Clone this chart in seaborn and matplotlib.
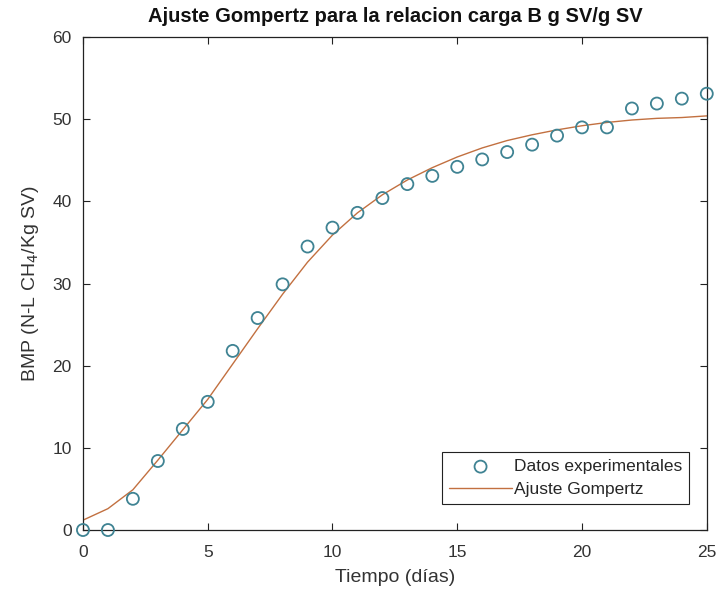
import matplotlib
matplotlib.use("Agg")
import matplotlib.pyplot as plt
import seaborn as sns
import pandas as pd

# Data
dias = list(range(0, 26))
bmp_experimental = [0.0, 0.0, 3.8, 8.4, 12.3, 15.6, 21.8, 25.8, 29.9, 34.5,
                    36.8, 38.6, 40.4, 42.1, 43.1, 44.2, 45.1, 46.0, 46.9, 48.0,
                    49.0, 49.0, 51.3, 51.9, 52.5, 53.1]
bmp_gompertz = [1.2, 2.6, 4.9, 8.5, 12.2, 15.9, 20.2, 24.5, 28.7, 32.6,
                35.9, 38.6, 40.8, 42.6, 44.1, 45.4, 46.5, 47.4, 48.1, 48.7,
                49.2, 49.6, 49.9, 50.1, 50.2, 50.4]

x_ticks = [0, 5, 10, 15, 20, 25]
y_ticks = [0, 10, 20, 30, 40, 50, 60]

df_exp = pd.DataFrame({"Tiempo": dias, "BMP": bmp_experimental})
df_fit = pd.DataFrame({"Tiempo": dias, "BMP": bmp_gompertz})

sns.set_theme(style="white")
plt.rcParams["font.family"] = ["Liberation Sans", "DejaVu Sans"]

fig = plt.figure(figsize=(7.19, 5.94), dpi=100)
ax = fig.add_axes([0.1154, 0.1077, 0.8676, 0.830])

sns.scatterplot(data=df_exp, x="Tiempo", y="BMP", ax=ax, marker="o", s=75,
                facecolor="none", edgecolor="#3f8393", linewidth=1.3,
                label="Datos experimentales", zorder=3, clip_on=False)
sns.lineplot(data=df_fit, x="Tiempo", y="BMP", ax=ax, color="#c27040",
             linewidth=1.0, label="Ajuste Gompertz", zorder=2)

ax.set_xlim(0, 25)
ax.set_ylim(0, 60)
ax.set_xticks(x_ticks)
ax.set_yticks(y_ticks)
ax.tick_params(axis="both", which="both", direction="in", length=5, width=0.8,
               labelsize=12.5, labelcolor="#333333", color="#222222",
               top=True, right=True, bottom=True, left=True)
ax.tick_params(axis="x", pad=11)
ax.tick_params(axis="y", pad=8)
for sp in ax.spines.values():
    sp.set_visible(True)
    sp.set_color("#222222")
    sp.set_linewidth(0.9)

ax.set_xlabel("Tiempo (días)", fontsize=14, color="#333333", labelpad=6)
ax.set_ylabel("BMP (N-L CH$_4$/Kg SV)", fontsize=14, color="#333333", labelpad=8)
ax.set_title("Ajuste Gompertz para la relacion carga B g SV/g SV",
             fontsize=14.5, fontweight="bold", color="#111111", pad=11)

leg = ax.legend(loc="lower right", fontsize=12.5, frameon=True, fancybox=False,
                framealpha=1, edgecolor="#222222", borderpad=0.4,
                handlelength=3.6, handletextpad=0.1, labelspacing=0.45,
                bbox_to_anchor=(0.985, 0.035))
leg.get_frame().set_linewidth(0.8)

fig.savefig("out.png", dpi=100)
